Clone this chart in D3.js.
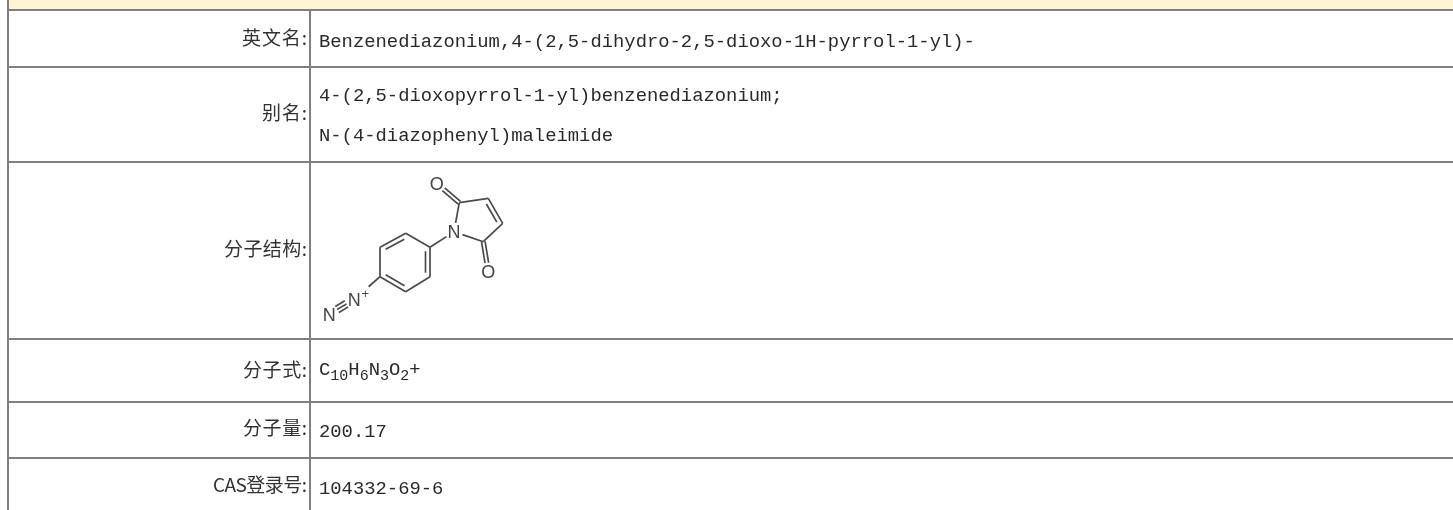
<!DOCTYPE html>
<html>

<head>
    <meta charset="UTF-8">
    <script src="https://d3js.org/d3.v7.min.js"></script>
    <style>
        html, body { margin: 0; padding: 0; background: #fff; overflow: hidden; }
        .label { font-family: "Noto Sans CJK SC"; font-size: 19px; fill: #333; text-anchor: end; }
        .value { font-family: "Liberation Mono"; font-size: 18.85px; fill: #2a2a2a; }
        .rule { stroke: #808080; stroke-width: 2; }
    </style>
</head>

<body>
    <svg width="1453" height="510"></svg>
    <script>
        // filas de la tabla
        var labels = ["英文名:", "别名:", "分子结构:", "分子式:", "分子量:", "CAS登录号:"];
        var labelBase = [45, 120, 256, 377, 435, 492];
        var labelWidths = [65, 45, 83, 64, 64, 94];
        var rowEdges = [10, 67, 162, 339, 402, 458];
        var values = [
            ["Benzenediazonium,4-(2,5-dihydro-2,5-dioxo-1H-pyrrol-1-yl)-", 46.5],
            ["4-(2,5-dioxopyrrol-1-yl)benzenediazonium;", 101],
            ["N-(4-diazophenyl)maleimide", 141],
            ["200.17", 437],
            ["104332-69-6", 494]
        ];
        var formula = [["C", "10"], ["H", "6"], ["N", "3"], ["O", "2"], ["+", ""]];

        // molécula, en unidades propias
        var atoms = {
            O1: [5.67, 1.33], C2: [7.93, 3.27], C3: [10.83, 2.83], C4: [12.27, 5.33], C5: [10.33, 7.17],
            N1: [7.4, 6.17], O2: [10.83, 10.17], A1: [5, 7.73], A2: [2.57, 6.33], A3: [0, 7.73],
            A4: [0, 10.67], A5: [2.57, 12.17], A6: [5, 10.67], Np: [-2.57, 12.93], Nt: [-5.07, 14.4]
        };
        var ringCentre = { A: [2.5, 9.2], P: [9.2, 5] };
        var bonds = [
            ["C2", "N1", 1], ["C2", "C3", 1], ["C3", "C4", 2, "P"], ["C4", "C5", 1], ["C5", "N1", 1],
            ["C2", "O1", 2], ["C5", "O2", 2], ["N1", "A1", 1], ["A1", "A2", 1], ["A2", "A3", 2, "A"],
            ["A3", "A4", 1], ["A4", "A5", 2, "A"], ["A5", "A6", 1], ["A6", "A1", 2, "A"], ["A4", "Np", 1], ["Np", "Nt", 3]
        ];
        var atomText = { O1: "O", O2: "O", N1: "N", Np: "N", Nt: "N" };

        var svg = d3.select("svg");
        var left = 8, divider = 310, right = 1453;

        var x = d3.scaleLinear().domain([0, 10]).range([380, 480]);
        var y = d3.scaleLinear().domain([0, 10]).range([170, 270]);

        svg.append("rect").attr("x", left).attr("y", 0).attr("width", right).attr("height", 9).attr("fill", "#fff4d6");

        // líneas de la tabla
        svg.selectAll(".h").data(rowEdges).enter().append("line")
            .attr("class", "rule").attr("x1", left - 1).attr("x2", right).attr("y1", d => d).attr("y2", d => d);
        svg.append("line").attr("class", "rule").attr("x1", left).attr("x2", left).attr("y1", 0).attr("y2", 510);
        svg.append("line").attr("class", "rule").attr("x1", divider).attr("x2", divider).attr("y1", 9).attr("y2", 510);

        var defs = svg.append("defs");
        defs.append("filter").attr("id", "soft").append("feGaussianBlur").attr("stdDeviation", 0.55);
        defs.append("filter").attr("id", "softText").append("feGaussianBlur").attr("stdDeviation", 0.25);

        var txt = svg.append("g").attr("filter", "url(#softText)");

        labels.forEach(function (t, i) {
            txt.append("text").attr("class", "label")
                .attr("x", divider - 3)
                .attr("y", labelBase[i])
                .attr("textLength", labelWidths[i])
                .text(t);
        });
        values.forEach(function (v) {
            txt.append("text").attr("class", "value").attr("x", 319).attr("y", v[1]).text(v[0]);
        });

        // fórmula con subíndices
        var ft = txt.append("text").attr("class", "value").attr("x", 319).attr("y", 375);
        formula.forEach(function (p, i) {
            ft.append("tspan").attr("dy", i ? -5 : 0).text(p[0]);
            if (p[1]) ft.append("tspan").attr("dy", 5).attr("font-size", 15).text(p[1]);
        });

        // estructura
        var mol = svg.append("g").attr("filter", "url(#soft)");

        bonds.forEach(function (b) {
            var p = atoms[b[0]], q = atoms[b[1]];
            var x1 = x(p[0]), y1 = y(p[1]), x2 = x(q[0]), y2 = y(q[1]);
            var len = Math.hypot(x2 - x1, y2 - y1), ux = (x2 - x1) / len, uy = (y2 - y1) / len;
            var trimA = atomText[b[0]] ? 9 : 0;
            // el enlace hacia N+ termina antes, junto al signo
            var trimB = b[1] == "Np" && b[0] == "A4" ? 19 : atomText[b[1]] ? 9 : 0;
            var nx = -uy, ny = ux;
            var offs = b[2] == 1 ? [0] : b[2] == 3 ? [-3.5, 0, 3.5] : [-1.8, 1.8];
            var inner = 0;
            if (b[3]) {
                // la segunda línea del doble enlace va hacia el centro del anillo
                var c = ringCentre[b[3]];
                var side = (x(c[0]) - x1) * nx + (y(c[1]) - y1) * ny > 0 ? 1 : -1;
                offs = [0, 4.5 * side];
                inner = 4;
            }
            offs.forEach(function (o, i) {
                var cut = b[3] && i == 1 ? inner : 0;
                mol.append("line")
                    .attr("x1", x1 + ux * (trimA + cut) + nx * o).attr("y1", y1 + uy * (trimA + cut) + ny * o)
                    .attr("x2", x2 - ux * (trimB + cut) + nx * o).attr("y2", y2 - uy * (trimB + cut) + ny * o)
                    .attr("stroke", "#4a4a4a").attr("stroke-width", 1.7);
            });
        });
        Object.keys(atomText).forEach(function (k) {
            mol.append("text").attr("x", x(atoms[k][0])).attr("y", y(atoms[k][1]) + 6.5)
                .attr("text-anchor", "middle").attr("font-family", "Liberation Sans").attr("font-size", 18)
                .attr("fill", "#444").text(atomText[k]);
        });
        mol.append("text").attr("x", x(atoms.Np[0]) + 11).attr("y", y(atoms.Np[1]) - 1)
            .attr("text-anchor", "middle").attr("font-family", "Liberation Sans").attr("font-size", 13)
            .attr("fill", "#444").text("+");
    </script>
</body>

</html>
